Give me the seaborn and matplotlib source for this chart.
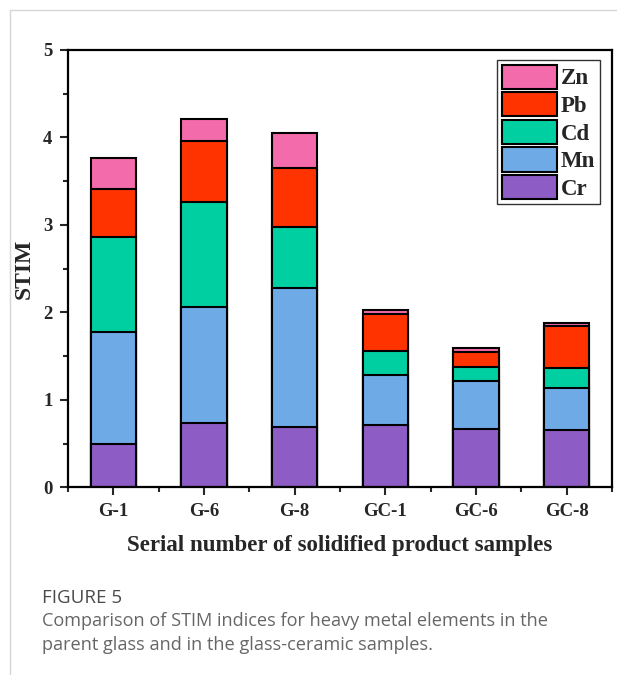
import numpy as np
import pandas as pd
import seaborn as sns
import matplotlib
matplotlib.use("Agg")
import matplotlib.pyplot as plt
from matplotlib.patches import Patch
from matplotlib.lines import Line2D
from matplotlib.ticker import MultipleLocator, FixedLocator

# STIM index of each heavy metal per sample
samples = ["G-1", "G-6", "G-8", "GC-1", "GC-6", "GC-8"]
cr = [0.49, 0.73, 0.69, 0.71, 0.67, 0.66]
mn = [1.29, 1.33, 1.59, 0.58, 0.54, 0.48]
cd = [1.08, 1.20, 0.70, 0.27, 0.17, 0.22]
pb = [0.55, 0.70, 0.67, 0.42, 0.17, 0.48]
zn = [0.36, 0.25, 0.40, 0.05, 0.04, 0.04]

elements = ["Cr", "Mn", "Cd", "Pb", "Zn"]
colors = {"Cr": "#8E5CC5", "Mn": "#6EAAE6", "Cd": "#00CFA2",
          "Pb": "#FF3300", "Zn": "#F46BAB"}

sns.set_style("ticks")
plt.rcParams["font.family"] = ["Liberation Serif", "DejaVu Serif"]

fig = plt.figure(figsize=(6.17, 6.75), dpi=100)
ax = fig.add_axes([0.110, 0.278, 0.882, 0.648])

# stacked bars: draw cumulative heights from the top layer down
stack = np.cumsum(np.array([cr, mn, cd, pb, zn]), axis=0)
for i in range(len(elements) - 1, -1, -1):
    df = pd.DataFrame({"sample": samples, "value": stack[i]})
    sns.barplot(data=df, x="sample", y="value", ax=ax, width=0.5,
                color=colors[elements[i]], saturation=1,
                edgecolor="black", linewidth=1.5, errorbar=None)

ax.set_xlim(-0.5, 5.5)
ax.set_ylim(0, 5)
ax.yaxis.set_major_locator(MultipleLocator(1))
ax.yaxis.set_minor_locator(MultipleLocator(0.5))
ax.xaxis.set_minor_locator(FixedLocator(np.arange(-0.5, 6, 1)))

for s in ax.spines.values():
    s.set_linewidth(1.6)
    s.set_color("black")

ax.tick_params(axis="both", which="major", direction="out", length=6,
               width=1.5, labelsize=13.5, pad=5)
ax.tick_params(axis="both", which="minor", direction="out", length=3.5,
               width=1.5)
for lab in ax.get_xticklabels() + ax.get_yticklabels():
    lab.set_fontweight("bold")

ax.set_xlabel("Serial number of solidified product samples",
              fontsize=16.5, fontweight="bold", labelpad=11)
ax.set_ylabel("STIM", fontsize=17, fontweight="bold", labelpad=6)

handles = [Patch(facecolor=colors[e], edgecolor="black", linewidth=1.5,
                 label=e) for e in elements[::-1]]
leg = ax.legend(handles=handles, loc="upper right",
                bbox_to_anchor=(0.978, 0.977), frameon=True, fancybox=False,
                handlelength=2.4, handleheight=1.25, handletextpad=0.2,
                labelspacing=0.12, borderpad=0.2, borderaxespad=0.0,
                prop={"family": "Liberation Serif", "weight": "bold",
                      "size": 16.5})
leg.get_frame().set_edgecolor("black")
leg.get_frame().set_linewidth(1.0)

# card border and caption
fig.add_artist(Line2D([9.5 / 617, 9.5 / 617], [0, 1 - 10 / 675],
                      color="#d6d6d6", linewidth=1.0))
fig.add_artist(Line2D([9.5 / 617, 1], [1 - 10 / 675, 1 - 10 / 675],
                      color="#d6d6d6", linewidth=1.0))

cap_font = ["Open Sans", "DejaVu Sans"]
fig.text(42 / 617, 1 - 598 / 675, "FIGURE 5", family=cap_font,
         fontsize=13.5, color="#4a4a4a", va="center", ha="left",
         fontweight="medium")
fig.text(42 / 617, 1 - 621 / 675,
         "Comparison of STIM indices for heavy metal elements in the",
         family=cap_font, fontsize=13.1, color="#666666", va="center",
         ha="left")
fig.text(42 / 617, 1 - 645 / 675,
         "parent glass and in the glass-ceramic samples.",
         family=cap_font, fontsize=13.1, color="#666666", va="center",
         ha="left")

fig.savefig("out.png", dpi=100)
